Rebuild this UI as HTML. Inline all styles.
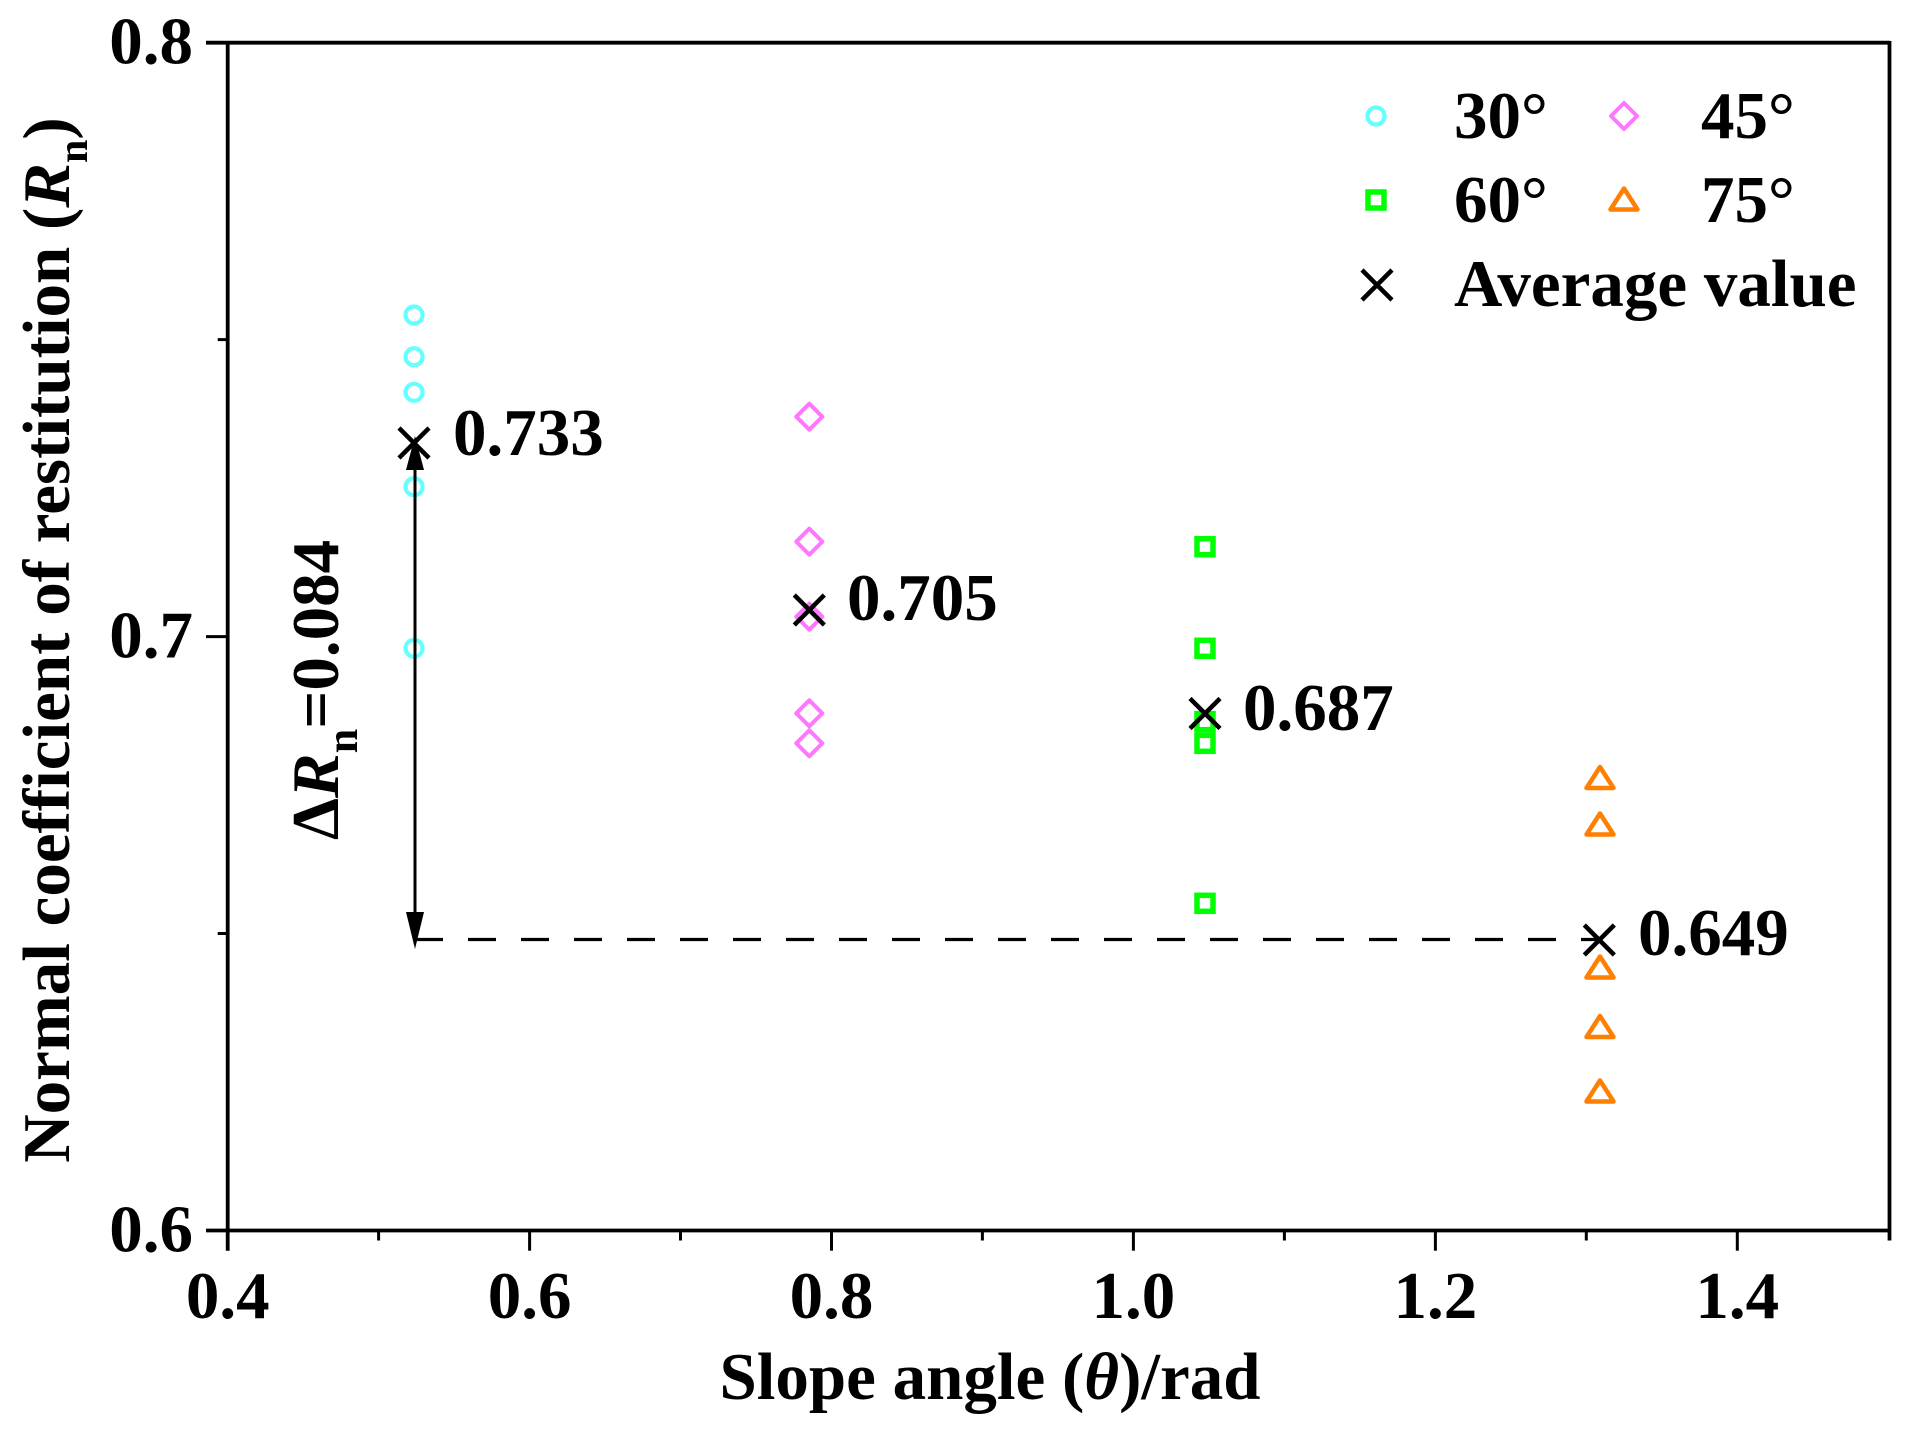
<!DOCTYPE html>
<html>
<head>
<meta charset="utf-8">
<style>
html,body{margin:0;padding:0;background:#fff;}
svg{display:block;}
text{font-family:"Liberation Serif","DejaVu Serif",serif;font-weight:bold;fill:#000;}
</style>
</head>
<body>
<svg width="1910" height="1430" viewBox="0 0 1910 1430" xmlns="http://www.w3.org/2000/svg">
<rect width="1910" height="1430" fill="#fff"/>

<!-- frame -->
<g stroke="#000" stroke-width="3.8" fill="none">
  <line x1="206" y1="42.7" x2="1890" y2="42.7"/>
  <line x1="1889.5" y1="41" x2="1889.5" y2="1240.5"/>
  <line x1="206" y1="1230.5" x2="1890" y2="1230.5"/>
  <line x1="227.7" y1="41" x2="227.7" y2="1250.7"/>
</g>
<!-- ticks -->
<g stroke="#000" stroke-width="3">
  <line x1="529.6" y1="1230.5" x2="529.6" y2="1250.7"/>
  <line x1="831.5" y1="1230.5" x2="831.5" y2="1250.7"/>
  <line x1="1133.4" y1="1230.5" x2="1133.4" y2="1250.7"/>
  <line x1="1435.4" y1="1230.5" x2="1435.4" y2="1250.7"/>
  <line x1="1737.3" y1="1230.5" x2="1737.3" y2="1250.7"/>
  <line x1="378.6" y1="1230.5" x2="378.6" y2="1240.5"/>
  <line x1="680.5" y1="1230.5" x2="680.5" y2="1240.5"/>
  <line x1="982.4" y1="1230.5" x2="982.4" y2="1240.5"/>
  <line x1="1284.4" y1="1230.5" x2="1284.4" y2="1240.5"/>
  <line x1="1586.3" y1="1230.5" x2="1586.3" y2="1240.5"/>
  <line x1="206" y1="636.6" x2="227.7" y2="636.6"/>
  <line x1="217.7" y1="339.6" x2="227.7" y2="339.6"/>
  <line x1="217.7" y1="933.5" x2="227.7" y2="933.5"/>
</g>

<!-- tick labels -->
<g font-size="67">
  <text x="193" y="63.5" text-anchor="end">0.8</text>
  <text x="193" y="657.5" text-anchor="end">0.7</text>
  <text x="193" y="1251.5" text-anchor="end">0.6</text>
  <g text-anchor="middle">
    <text x="227.7" y="1318">0.4</text>
    <text x="529.6" y="1318">0.6</text>
    <text x="831.5" y="1318">0.8</text>
    <text x="1133.4" y="1318">1.0</text>
    <text x="1435.4" y="1318">1.2</text>
    <text x="1737.3" y="1318">1.4</text>
  </g>
</g>

<!-- axis titles -->
<text x="990" y="1399" font-size="67" text-anchor="middle">Slope angle (<tspan font-style="italic">θ</tspan>)/rad</text>
<text transform="translate(69,640) rotate(-90)" font-size="67" text-anchor="middle">Normal coefficient of restitution (<tspan font-style="italic">R</tspan><tspan font-size="42" dy="18">n</tspan><tspan dy="-18">)</tspan></text>

<!-- dashed line -->
<line x1="415" y1="939.5" x2="1600" y2="939.5" stroke="#000" stroke-width="3.3" stroke-dasharray="28 25"/>

<!-- 30 deg circles -->
<g fill="none" stroke="#66FFFF" stroke-width="4.2">
  <circle cx="414" cy="315" r="8.5"/>
  <circle cx="414" cy="356.7" r="8.5"/>
  <circle cx="414" cy="392.3" r="8.5"/>
  <circle cx="414" cy="486.7" r="8.5"/>
  <circle cx="414" cy="648.3" r="8.5"/>
</g>
<!-- 45 deg diamonds -->
<g fill="none" stroke="#FF77FF" stroke-width="4" stroke-linejoin="round">
  <path d="M809.3,403.7 L822.3,416.7 L809.3,429.7 L796.3,416.7 Z"/>
  <path d="M809.3,528.7 L822.3,541.7 L809.3,554.7 L796.3,541.7 Z"/>
  <path d="M809.3,603.7 L822.3,616.7 L809.3,629.7 L796.3,616.7 Z"/>
  <path d="M809.3,700.3 L822.3,713.3 L809.3,726.3 L796.3,713.3 Z"/>
  <path d="M809.3,730.3 L822.3,743.3 L809.3,756.3 L796.3,743.3 Z"/>
</g>
<!-- 60 deg squares -->
<g fill="none" stroke="#00FF00" stroke-width="5.5">
  <rect x="1197" y="538.7" width="16" height="16"/>
  <rect x="1197" y="640.3" width="16" height="16"/>
  <rect x="1197" y="713.7" width="16" height="16"/>
  <rect x="1197" y="735.3" width="16" height="16"/>
  <rect x="1197" y="895.3" width="16" height="16"/>
</g>
<!-- 75 deg triangles -->
<g fill="none" stroke="#FF7F00" stroke-width="4.5" stroke-linejoin="round">
  <path d="M1600,767 L1613.5,788 L1586.5,788 Z"/>
  <path d="M1600,813.5 L1613.5,834.5 L1586.5,834.5 Z"/>
  <path d="M1600,956.5 L1613.5,977.5 L1586.5,977.5 Z"/>
  <path d="M1600,1016 L1613.5,1037 L1586.5,1037 Z"/>
  <path d="M1600,1080.5 L1613.5,1101.5 L1586.5,1101.5 Z"/>
</g>

<!-- arrow -->
<line x1="415" y1="466" x2="415" y2="913" stroke="#000" stroke-width="3"/>
<path d="M415,436 L424,470 L406,470 Z" fill="#000"/>
<path d="M415,949 L424,912 L406,912 Z" fill="#000"/>

<!-- average crosses -->
<g stroke="#000" stroke-width="4.5">
  <path d="M399,428 L429,458 M429,428 L399,458"/>
  <path d="M794.3,595 L824.3,625 M824.3,595 L794.3,625"/>
  <path d="M1190,698.5 L1220,728.5 M1220,698.5 L1190,728.5"/>
  <path d="M1584.3,925 L1614.3,955 M1614.3,925 L1584.3,955"/>
</g>

<!-- value labels -->
<g font-size="67">
  <text x="453" y="455">0.733</text>
  <text x="847" y="620">0.705</text>
  <text x="1243" y="730">0.687</text>
  <text x="1638" y="955">0.649</text>
</g>

<!-- delta label -->
<text transform="translate(338,840) rotate(-90)" font-size="67">Δ<tspan font-style="italic">R</tspan><tspan font-size="44" dy="19">n</tspan><tspan dy="-19">=0.084</tspan></text>

<!-- legend -->
<circle cx="1376" cy="116" r="8.5" fill="none" stroke="#66FFFF" stroke-width="4.2"/>
<path d="M1624,103 L1637,116 L1624,129 L1611,116 Z" fill="none" stroke="#FF77FF" stroke-width="4" stroke-linejoin="round"/>
<rect x="1368" y="192" width="16" height="16" fill="none" stroke="#00FF00" stroke-width="5.5"/>
<path d="M1624,188.5 L1637.5,209.5 L1610.5,209.5 Z" fill="none" stroke="#FF7F00" stroke-width="4.5" stroke-linejoin="round"/>
<path d="M1362,270 L1392,300 M1392,270 L1362,300" stroke="#000" stroke-width="4.5"/>
<g font-size="67">
  <text x="1454" y="138">30°</text>
  <text x="1701" y="138">45°</text>
  <text x="1454" y="222">60°</text>
  <text x="1701" y="222">75°</text>
  <text x="1454" y="306">Average value</text>
</g>
</svg>
</body>
</html>
